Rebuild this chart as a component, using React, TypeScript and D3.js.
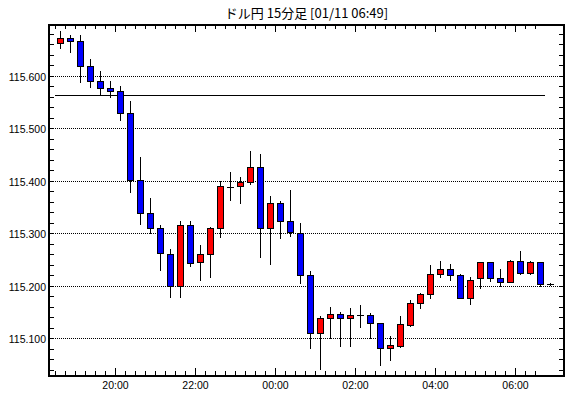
import React from "react";
import * as d3 from "d3";

const title = "ドル円 15分足 [01/11 06:49]";
const startTime = new Date(2024, 0, 10, 18, 30);
const opens = [115.662,115.672,115.666,115.618,115.590,115.577,115.571,115.529,115.402,115.339,115.310,115.260,115.200,115.316,115.245,115.260,115.310,115.389,115.390,115.397,115.426,115.310,115.357,115.323,115.301,115.220,115.111,115.138,115.146,115.138,115.144,115.144,115.129,115.081,115.086,115.126,115.167,115.184,115.222,115.232,115.221,115.176,115.214,115.245,115.214,115.207,115.247,115.224,115.245,115.203];
const highs = [115.686,115.678,115.678,115.632,115.610,115.590,115.580,115.552,115.446,115.367,115.316,115.270,115.324,115.324,115.278,115.313,115.400,115.417,115.407,115.457,115.451,115.371,115.362,115.383,115.319,115.228,115.142,115.160,115.150,115.158,115.164,115.148,115.129,115.104,115.143,115.172,115.186,115.240,115.247,115.242,115.222,115.216,115.245,115.246,115.232,115.249,115.267,115.247,115.245,115.205];
const lows = [115.654,115.646,115.589,115.578,115.566,115.559,115.516,115.378,115.317,115.300,115.230,115.178,115.179,115.238,115.212,115.217,115.293,115.364,115.357,115.394,115.254,115.242,115.292,115.294,115.206,115.082,115.042,115.100,115.086,115.086,115.122,115.100,115.049,115.059,115.084,115.123,115.158,115.176,115.217,115.211,115.176,115.165,115.195,115.210,115.200,115.207,115.222,115.222,115.200,115.201];
const closes = [115.672,115.666,115.618,115.590,115.577,115.571,115.529,115.402,115.339,115.310,115.262,115.200,115.316,115.243,115.261,115.310,115.390,115.389,115.397,115.426,115.310,115.357,115.323,115.302,115.220,115.111,115.138,115.146,115.138,115.144,115.144,115.129,115.081,115.087,115.127,115.167,115.184,115.223,115.232,115.220,115.176,115.212,115.245,115.214,115.207,115.247,115.224,115.245,115.203,115.203];
const yLabels = ["115.100", "115.200", "115.300", "115.400", "115.500", "115.600"];
const refLevel = 115.563;

const W = 570, H = 398;
const L = 49, R = 564, T = 25, B = 376;
const MIN = 60000;

export default function App() {
  const candles = opens.map((o, i) => ({
    t: new Date(startTime.getTime() + i * 15 * MIN),
    o, h: highs[i], l: lows[i], c: closes[i],
  }));
  const x = d3.scaleTime()
    .domain([new Date(2024, 0, 10, 18, 20), new Date(2024, 0, 11, 7, 12, 30)])
    .range([L, R]);
  const y = d3.scaleLinear().domain([115.030, 115.699]).range([B - 1, T - 1]);
  const px = (v: number) => Math.round(y(v)) + 0.5;

  const tickTimes = d3.timeMinute.every(15)!.range(startTime, new Date(2024, 0, 11, 6, 31));
  const majorTimes = tickTimes.filter((d) => d.getHours() % 2 === 0 && d.getMinutes() === 0);
  const yMinor = d3.range(115.04, 115.69, 0.02);
  const yMajor = yLabels.map(Number);
  const fmt = d3.timeFormat("%H:%M");

  return (
    <svg width={W} height={H} style={{ position: "absolute", left: 0, top: 0, display: "block", background: "#fff" }}>
      <rect x={0} y={0} width={W} height={H} fill="#fff" />
      <text x={(L + R) / 2} y={18} textAnchor="middle" fontFamily="'Noto Sans CJK JP', sans-serif" fontSize={13} fill="#000">{title}</text>
      {yMajor.map((v) => (
        <line key={"g" + v} x1={L} x2={R} y1={px(v)} y2={px(v)} stroke="#000" strokeWidth={1} strokeDasharray="1,1" />
      ))}
      {yMinor.map((v) => (
        <g key={"yt" + v}>
          <line x1={L} x2={L + 5} y1={px(v)} y2={px(v)} stroke="#000" strokeWidth={1} />
          <line x1={R - 5} x2={R} y1={px(v)} y2={px(v)} stroke="#000" strokeWidth={1} />
        </g>
      ))}
      {yMajor.map((v, i) => (
        <text key={"yl" + v} x={46} y={px(v) + 4} textAnchor="end" fontFamily="'Liberation Sans', Arial, sans-serif" fontSize={10.5} fill="#000">{yLabels[i]}</text>
      ))}
      {tickTimes.map((d) => {
        const xx = Math.floor(x(d)) + 0.5;
        const major = d.getHours() % 2 === 0 && d.getMinutes() === 0;
        const len = major ? 7 : 4;
        return (
          <g key={"xt" + d.getTime()}>
            <line x1={xx} x2={xx} y1={B - 1} y2={B - 1 - len} stroke="#000" strokeWidth={1} />
            <line x1={xx} x2={xx} y1={T} y2={T + len} stroke="#000" strokeWidth={1} />
          </g>
        );
      })}
      {majorTimes.map((d) => (
        <text key={"xl" + d.getTime()} x={Math.floor(x(d)) + 0.5} y={389} textAnchor="middle" fontFamily="'Liberation Sans', Arial, sans-serif" fontSize={10.5} fill="#000">{fmt(d)}</text>
      ))}
      <line
        x1={Math.floor(x(startTime))}
        x2={Math.floor(x(new Date(startTime.getTime() + 49 * 15 * MIN)))}
        y1={px(refLevel)} y2={px(refLevel)} stroke="#000" strokeWidth={1} />
      {candles.map((d, i) => {
        const cx = Math.floor(x(new Date(d.t.getTime() + 7.5 * MIN)));
        const top = px(Math.max(d.o, d.c));
        const bot = px(Math.min(d.o, d.c));
        const doji = Math.abs(d.o - d.c) < 0.0005;
        return (
          <g key={"c" + i}>
            <line x1={cx + 0.5} x2={cx + 0.5} y1={px(d.h) - 0.5} y2={px(d.l) + 0.5} stroke="#000" strokeWidth={1} />
            {doji ? (
              <line x1={cx - 3} x2={cx + 4} y1={top} y2={top} stroke="#000" strokeWidth={1} />
            ) : (
              <rect x={cx - 2.5} y={top} width={6} height={Math.max(bot - top, 1)}
                fill={d.c > d.o ? "#ff0000" : "#0000ff"} stroke="#000" strokeWidth={1} />
            )}
          </g>
        );
      })}
      <rect x={L} y={T} width={R - L} height={B - T} fill="none" stroke="#000" strokeWidth={2} />
    </svg>
  );
}
